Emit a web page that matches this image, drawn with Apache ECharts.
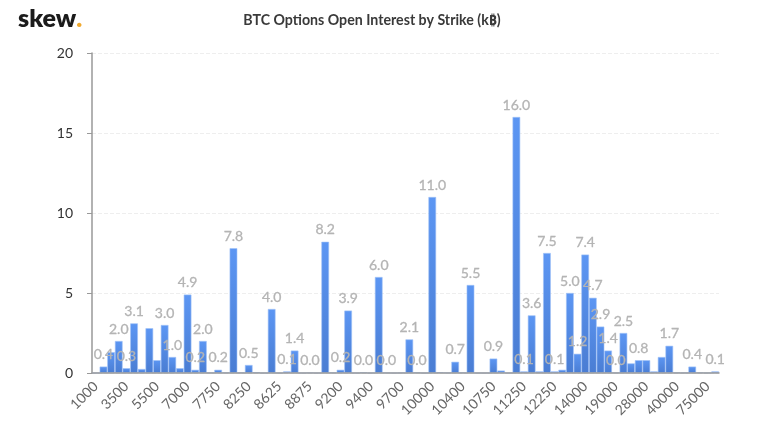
<!DOCTYPE html>
<html>
<head>
<meta charset="utf-8">
<style>html,body{margin:0;padding:0;background:#fff}#container{width:775px;height:433px}</style>
<script src="https://cdn.jsdelivr.net/npm/echarts@6/dist/echarts.min.js"></script>
</head>
<body>
<div id="container"></div>
<script>
// only every 4th strike can be read on the axis, the rest stay blank
var tickLabels = ["1000","3500","5500","7000","7750","8250","8625","8875","9200","9400","9700",
  "10000","10400","10750","11250","12250","14000","19000","28000","40000","75000"];

var values = [
  0, 0.4, 1.3, 2.0, 0.3, 3.1, 0.25, 2.8, 0.8, 3.0,
  1.0, 0.3, 4.9, 0.2, 2.0, 0.02, 0.2, 0.03, 7.8, 0.03,
  0.5, 0.05, 0, 4.0, 0, 0.1, 1.4, 0, 0.02, 0,
  8.2, 0.03, 0.2, 3.9, 0, 0.04, 0, 6.0, 0.02, 0,
  0.02, 2.1, 0.04, 0, 11.0, 0.05, 0.02, 0.7, 0.03, 5.5,
  0, 0, 0.9, 0.15, 0, 16.0, 0.1, 3.6, 0.1, 7.5,
  0.1, 0.2, 5.0, 1.2, 7.4, 4.7, 2.9, 1.4, 0.02, 2.5,
  0.6, 0.8, 0.8, 0.1, 1.0, 1.7, 0.03, 0.02, 0.4, 0.03,
  0.01, 0.1
];

// bars that carry a value label in the picture
var labelled = [1,3,4,5,9,10,12,13,14,16,18,20,23,25,26,28,30,32,33,35,37,38,41,42,44,47,49,52,
  55,56,57,59,60,62,63,64,65,66,67,68,69,71,75,78,81];

var categories = values.map(function (v, i) {
  return i % 4 === 0 ? tickLabels[i / 4] : "";
});

var chart = echarts.init(document.getElementById("container"));
var fontName = "Lato, Carlito, 'Noto Sans', sans-serif";

var option = {
  animation: false,
  textStyle: { fontFamily: fontName },
  title: [
    {
      text: "BTC Options Open Interest by Strike (k₿)",
      left: 367,
      textAlign: "center",
      top: 8,
      textStyle: { fontSize: 14.2, fontWeight: "bold", color: "#3a3a3a", fontFamily: fontName }
    },
    {
      text: "{a|skew}{b|.}",
      left: 13,
      top: 1,
      textStyle: {
        rich: {
          a: { fontSize: 25, fontWeight: 800, color: "#1b1b1b", fontFamily: fontName },
          b: { fontSize: 25, fontWeight: 800, color: "#f0a92e", fontFamily: fontName }
        }
      }
    }
  ],
  grid: { left: 92, right: 56, top: 53, bottom: 60 },
  xAxis: {
    type: "category",
    z: 5,
    data: categories,
    axisLine: { lineStyle: { color: "#999", width: 1.5 } },
    axisTick: { show: false },
    axisLabel: {
      interval: 3,
      rotate: 45,
      fontSize: 14,
      color: "#666",
      margin: 11,
      fontFamily: fontName
    }
  },
  yAxis: {
    type: "value",
    min: 0,
    max: 20,
    interval: 5,
    axisLine: { show: true, lineStyle: { color: "#999", width: 1.5 } },
    axisTick: { show: true, length: 5, lineStyle: { color: "#999" } },
    axisLabel: { fontSize: 14, color: "#333", margin: 19, fontFamily: fontName },
    splitLine: { lineStyle: { type: "dashed", color: "#eee" } }
  },
  series: [
    {
      type: "bar",
      barCategoryGap: "0%",
      barGap: "-100%",
      data: values,
      itemStyle: {
        borderColor: "#9fc1f6",
        borderWidth: 0.6,
        color: new echarts.graphic.LinearGradient(0, 0, 0, 1, [
          { offset: 0, color: "#5c96f3" },
          { offset: 1, color: "#4a7dd3" }
        ])
      }
    },
    {
      // same values again, see-through, so the labels sit above every bar
      type: "bar",
      z: 4,
      barCategoryGap: "0%",
      barGap: "-100%",
      silent: true,
      data: values.map(function (v, i) {
        return {
          value: v,
          label: { show: labelled.indexOf(i) !== -1 }
        };
      }),
      itemStyle: { color: "transparent" },
      label: {
        position: "top",
        distance: 5,
        fontSize: 14,
        color: "#b4b4b4",
        textBorderColor: "#b4b4b4",
        textBorderWidth: 0.3,
        fontFamily: fontName,
        formatter: function (p) {
          return p.value.toFixed(1);
        }
      }
    }
  ]
};

chart.setOption(option);
</script>
</body>
</html>
